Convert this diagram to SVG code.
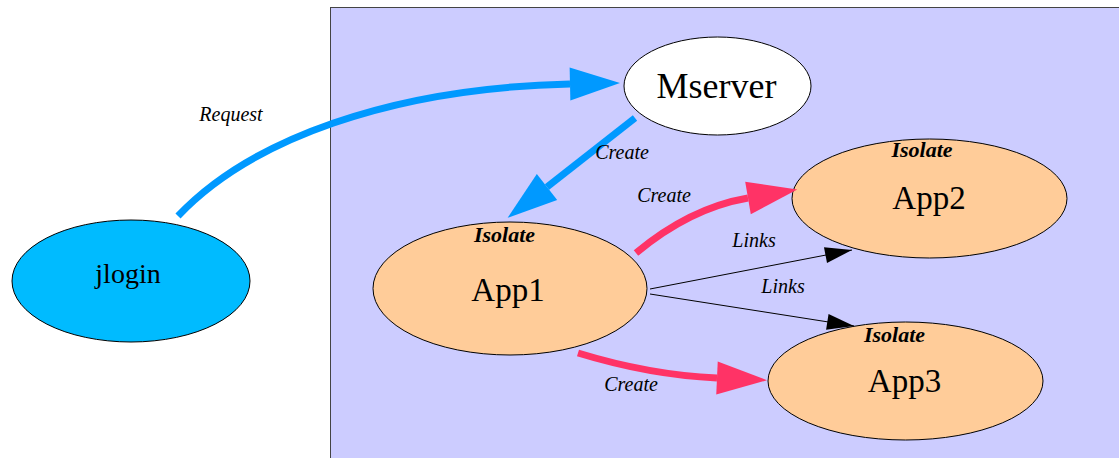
<svg xmlns="http://www.w3.org/2000/svg" width="1119" height="458" viewBox="0 0 1119 458">
<style>
.node{stroke:#000;stroke-width:1}
text{font-family:'Liberation Serif','DejaVu Serif',serif;fill:#000;text-anchor:middle}
.big{font-size:33px}
.iso{font-size:22px;font-weight:bold;font-style:italic}
.lbl{font-size:20px;font-style:italic}
.blue{fill:none;stroke:#0099ff;stroke-width:7}
.pink{fill:none;stroke:#ff3366;stroke-width:7}
.thin{fill:none;stroke:#000;stroke-width:1}
</style>
<defs>
<marker id="hb" markerUnits="userSpaceOnUse" markerWidth="52" markerHeight="34" refX="0" refY="16.5" orient="auto" overflow="visible"><path d="M0,0 L50,16.5 L0,33 z" fill="#0099ff"/></marker>
<marker id="hp" markerUnits="userSpaceOnUse" markerWidth="52" markerHeight="34" refX="0" refY="16.5" orient="auto" overflow="visible"><path d="M0,0 L50,16.5 L0,33 z" fill="#ff3366"/></marker>
<marker id="hk" markerUnits="userSpaceOnUse" markerWidth="28" markerHeight="16" refX="27" refY="8" orient="auto" overflow="visible"><path d="M0,0 L27,8 L0,16 z" fill="#000"/></marker>
</defs>
<rect id="cluster" x="330.5" y="7.5" width="800" height="460" fill="#ccccff" stroke="#444" stroke-width="1"/>
<g id="jlogin"><ellipse class="node" cx="131" cy="281" rx="119" ry="61" fill="#00bbff"/><text x="128" y="283" font-size="28" font-family="Liberation Serif, serif">jlogin</text></g>
<g id="Mserver"><ellipse class="node" cx="717.5" cy="86" rx="93.5" ry="49" fill="#fff"/><text x="716.5" y="98" font-size="36">Mserver</text></g>
<g id="App1"><ellipse class="node" cx="510" cy="288.5" rx="137" ry="66.5" fill="#ffcc99"/><text class="iso" x="504.5" y="242">Isolate</text><text class="big" x="508" y="301">App1</text></g>
<g id="App2"><ellipse class="node" cx="929.5" cy="198.5" rx="137.5" ry="59.5" fill="#ffcc99"/><text class="iso" x="922" y="157">Isolate</text><text class="big" x="929" y="209">App2</text></g>
<g id="App3"><ellipse class="node" cx="905.5" cy="381" rx="137.5" ry="59" fill="#ffcc99"/><text class="iso" x="894.5" y="342">Isolate</text><text class="big" x="904.5" y="392">App3</text></g>
<g id="connectors">
<path class="blue" d="M178,216 C250,140 390,88 570,84" marker-end="url(#hb)"/>
<path class="blue" d="M635,118 L547,187" marker-end="url(#hb)"/>
<path class="pink" d="M636,253 Q690,208 748,198" marker-end="url(#hp)"/>
<path class="pink" d="M578,353 Q650,375 717,378" marker-end="url(#hp)"/>
<path class="thin" d="M650,289 L852,250" marker-end="url(#hk)"/>
<path class="thin" d="M650,294 L854,326" marker-end="url(#hk)"/>
<text class="lbl" x="231" y="121">Request</text>
<text class="lbl" x="622" y="159">Create</text>
<text class="lbl" x="664" y="202">Create</text>
<text class="lbl" x="754" y="247">Links</text>
<text class="lbl" x="783" y="293">Links</text>
<text class="lbl" x="631" y="391">Create</text>
</g>
</svg>
